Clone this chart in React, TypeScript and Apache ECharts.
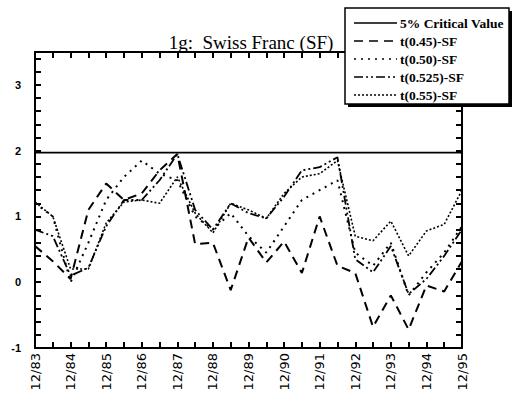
import React, { useEffect, useRef } from "react";
import * as echarts from "echarts";

const categories = [
  "12/83", "6/84", "12/84", "6/85", "12/85", "6/86", "12/86", "6/87", "12/87",
  "6/88", "12/88", "6/89", "12/89", "6/90", "12/90", "6/91", "12/91", "6/92",
  "12/92", "6/93", "12/93", "6/94", "12/94", "6/95", "12/95",
];

const CRITICAL_VALUE = 1.97;

const t045 = [0.55, 0.32, 0.05, 1.1, 1.5, 1.25, 1.35, 1.7, 1.95, 0.58, 0.6, -0.12, 0.68, 0.3, 0.62, 0.14, 1.0, 0.25, 0.14, -0.68, -0.2, -0.72, -0.05, -0.14, 0.32];
const t050 = [1.2, 1.0, 0.0, 0.6, 1.25, 1.6, 1.85, 1.65, 1.55, 1.0, 0.8, 1.05, 0.7, 0.45, 0.85, 1.25, 1.4, 1.55, 0.45, 0.25, 0.6, -0.2, 0.15, 0.45, 0.85];
const t0525 = [0.8, 0.7, 0.1, 0.22, 0.85, 1.25, 1.25, 1.55, 1.95, 1.1, 0.8, 1.2, 1.05, 0.97, 1.3, 1.7, 1.75, 1.9, 0.35, 0.15, 0.55, -0.18, 0.05, 0.4, 0.8];
const t055 = [1.22, 1.0, 0.2, 0.2, 0.9, 1.22, 1.25, 1.2, 1.6, 1.05, 0.75, 1.2, 1.1, 0.97, 1.35, 1.6, 1.65, 1.85, 0.7, 0.63, 0.93, 0.4, 0.78, 0.88, 1.4];

const legendNames = ["5% Critical Value", "t(0.45)-SF", "t(0.50)-SF", "t(0.525)-SF", "t(0.55)-SF"];

const DASH_CRIT: number[] | null = null;
const DASH_45 = [9, 6];
const DASH_50 = [2, 5];
const DASH_525 = [9, 3, 2, 3, 2, 3];
const DASH_55 = [2, 2];

export default function App() {
  const ref = useRef<HTMLDivElement>(null);
  useEffect(() => {
    if (!ref.current) return;
    const chart = echarts.init(ref.current, null, { renderer: "svg" });
    const black = "#000";
    const toPairs = (vals: number[]) => vals.map((v, i) => [i, v]);
    const lineSeries = (name: string, data: number[], dash: number[] | null, width: number) => ({
      name,
      type: "line",
      data: toPairs(data),
      symbol: "none",
      xAxisIndex: 0,
      yAxisIndex: 0,
      lineStyle: { color: black, width, type: dash ? dash : "solid" },
      z: 3,
    });

    const legendRows = legendNames.map((n, i) => {
      const y = 23 + i * 18;
      const dashes = [DASH_CRIT, DASH_45, DASH_50, DASH_525, DASH_55];
      return [
        {
          type: "line",
          shape: { x1: 354, y1: y, x2: 397, y2: y },
          style: { stroke: black, lineWidth: 1.6, lineDash: dashes[i] || undefined },
          z: 102,
        },
        {
          type: "text",
          x: 400,
          y,
          style: {
            text: n,
            fill: black,
            font: "bold 13.5px 'Liberation Serif'",
            textVerticalAlign: "middle",
            textAlign: "left",
          },
          z: 102,
        },
      ];
    }).flat();

    const tickStyle = { show: true, inside: true, length: 6, lineStyle: { color: black, width: 2, type: "solid" } };

    const yAxisBase = {
      type: "value",
      min: -1,
      max: 3.5,
      interval: 0.2,
      splitLine: { show: false },
      axisLine: { show: true, onZero: false, lineStyle: { color: black, width: 2 } },
      axisTick: tickStyle,
    };
    const xAxisBase = {
      type: "value",
      min: 0,
      max: categories.length - 1,
      interval: 1,
      axisLine: { show: true, onZero: false, lineStyle: { color: black, width: 2 } },
      axisTick: tickStyle,
      splitLine: { show: false },
    };

    chart.setOption({
      animation: false,
      backgroundColor: "#fff",
      title: {
        text: "1g:  Swiss Franc (SF)",
        left: 246,
        top: 28,
        textAlign: "center",
        textStyle: { fontFamily: "Liberation Serif", fontSize: 19, fontWeight: "normal", color: black },
      },
      grid: { left: 35, right: 57, top: 52, bottom: 55 },
      xAxis: [
        {
          ...xAxisBase,
          position: "bottom",
          axisLabel: {
            rotate: 90,
            margin: 5,
            color: black,
            fontFamily: "DejaVu Sans",
            fontSize: 13,
            showMinLabel: true,
            showMaxLabel: true,
            formatter: (v: number) => {
              const i = Math.round(v);
              return i % 2 === 0 && categories[i] ? categories[i] : "";
            },
          },
        },
        { ...xAxisBase, position: "top", axisLabel: { show: false } },
      ],
      yAxis: [
        {
          ...yAxisBase,
          position: "left",
          axisLabel: {
            show: true,
            margin: 14,
            color: black,
            fontFamily: "Liberation Sans",
            fontWeight: "bold",
            fontSize: 11,
            formatter: (v: number) => {
              const r = Math.round(v);
              if (Math.abs(v - r) > 1e-6 || r > 3) return "";
              return String(r);
            },
          },
        },
        { ...yAxisBase, position: "right", axisLabel: { show: false } },
      ],
      series: [
        lineSeries(legendNames[0], categories.map(() => CRITICAL_VALUE), null, 1.8),
        lineSeries(legendNames[1], t045, DASH_45, 2),
        lineSeries(legendNames[2], t050, DASH_50, 2),
        lineSeries(legendNames[3], t0525, DASH_525, 1.8),
        lineSeries(legendNames[4], t055, DASH_55, 1.6),
      ],
      graphic: [
        { type: "rect", shape: { x: 348, y: 11, width: 164, height: 96 }, style: { fill: black }, z: 100 },
        { type: "rect", shape: { x: 345, y: 8, width: 164, height: 96 }, style: { fill: "#fff", stroke: black, lineWidth: 1.5 }, z: 101 },
        ...legendRows,
      ],
    });
    return () => chart.dispose();
  }, []);
  return <div ref={ref} style={{ position: "fixed", left: 0, top: 0, width: 519, height: 403 }} />;
}
